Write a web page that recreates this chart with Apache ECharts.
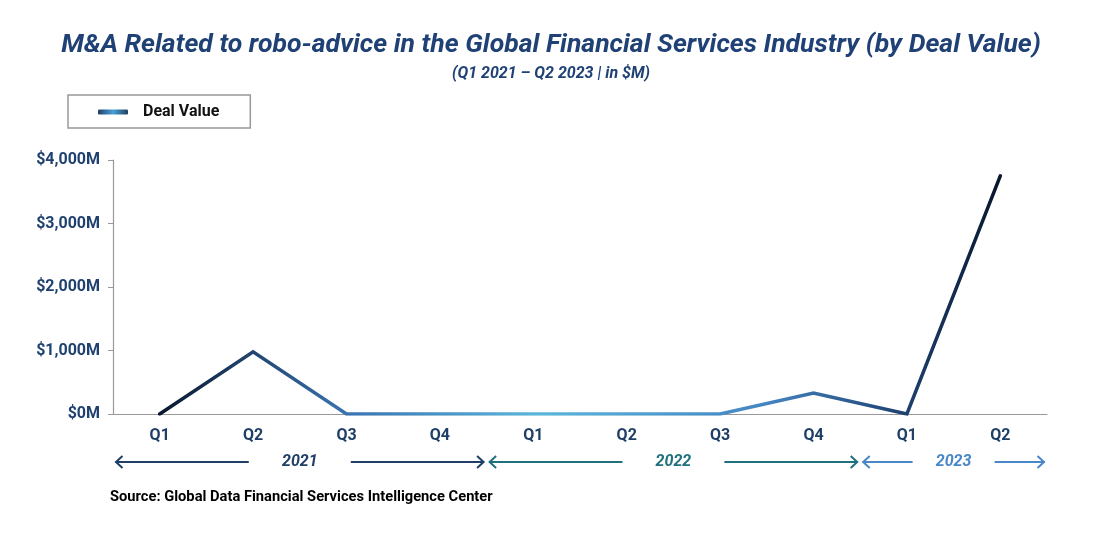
<!DOCTYPE html>
<html>
<head>
<meta charset="utf-8">
<script src="https://cdn.jsdelivr.net/npm/echarts@6/dist/echarts.min.js"></script>
<style>
html,body{margin:0;padding:0;background:#fff;}
#chart{width:1102px;height:559px;}
</style>
</head>
<body>
<div id="chart"></div>
<script>
const quarters = ['Q1','Q2','Q3','Q4','Q1','Q2','Q3','Q4','Q1','Q2'];
const dealValue = [0, 980, 0, 0, 0, 0, 0, 330, 0, 3750];
const years = ['2021','2022','2023'];
const quartersPerYear = [4, 4, 2];
const yearColors = ['#1f3f66', '#1f717d', '#4a87c6'];
const yMin = 0, yMax = 4000, yInterval = 1000;

const FONT = 'Roboto';
const lineGradient = new echarts.graphic.LinearGradient(0, 0, 1, 0, [
  {offset: 0, color: '#08162c'},
  {offset: 0.22, color: '#3a72b0'},
  {offset: 0.45, color: '#5cb6da'},
  {offset: 0.72, color: '#4585c2'},
  {offset: 0.88, color: '#1f4272'},
  {offset: 1, color: '#08162c'}
]);
const legendGradient = new echarts.graphic.LinearGradient(0, 0, 1, 0, [
  {offset: 0, color: '#1f3f66'},
  {offset: 0.5, color: '#4aa0d6'},
  {offset: 1, color: '#1f3f66'}
]);

const chart = echarts.init(document.getElementById('chart'));
chart.setOption({
  animation: false,
  title: {
    text: 'M&A Related to robo-advice in the Global Financial Services Industry (by Deal Value)',
    subtext: '(Q1 2021 \u2013 Q2 2023 | in $M)',
    left: 'center',
    top: 27,
    itemGap: 7,
    textStyle: {fontFamily: FONT, fontSize: 26.6, fontWeight: 'bold', fontStyle: 'italic', color: '#1f4175'},
    subtextStyle: {fontFamily: FONT, fontSize: 16, fontWeight: 'bold', fontStyle: 'italic', color: '#1f4175'}
  },
  legend: {
    left: 68,
    top: 95,
    orient: 'horizontal',
    padding: [9, 31, 8, 30],
    borderColor: '#999',
    borderWidth: 1.5,
    borderRadius: 0,
    itemWidth: 30,
    itemHeight: 5,
    icon: 'roundRect',
    data: [{name: 'Deal Value', itemStyle: {color: legendGradient}}],
    textStyle: {fontFamily: FONT, fontSize: 16, fontWeight: 'bold', color: '#111', padding: [0, 0, 0, 10]}
  },
  grid: {left: 113, right: 55, top: 160, bottom: 145, containLabel: false},
  xAxis: {
    type: 'category',
    data: quarters,
    boundaryGap: true,
    axisLine: {lineStyle: {color: '#999', width: 1.2}},
    axisTick: {show: false},
    axisLabel: {fontFamily: FONT, fontSize: 16, fontWeight: 'bold', color: '#1f3f66', margin: 14, interval: 0}
  },
  yAxis: {
    type: 'value',
    min: yMin,
    max: yMax,
    interval: yInterval,
    axisLine: {show: true, lineStyle: {color: '#999', width: 1.2}},
    axisTick: {show: true, length: 5, lineStyle: {color: '#999'}},
    splitLine: {show: false},
    axisLabel: {
      fontFamily: FONT, fontSize: 16, fontWeight: 'bold', color: '#1f4170', margin: 13,
      formatter: v => '$' + v.toLocaleString('en-US') + 'M'
    }
  },
  series: [{
    name: 'Deal Value',
    type: 'line',
    data: dealValue,
    symbol: 'none',
    lineStyle: {width: 3.5, color: lineGradient, cap: 'round', join: 'miter'},
    itemStyle: {color: '#1f3f66'}
  }]
});

function buildYearGraphics() {
  const x0 = chart.convertToPixel({xAxisIndex: 0}, 0);
  const x1 = chart.convertToPixel({xAxisIndex: 0}, 1);
  const band = x1 - x0;
  const y = 462;
  const els = [];
  let start = 0;
  years.forEach((yr, i) => {
    const left = x0 - band / 2 + start * band + 2.5;
    const right = x0 - band / 2 + (start + quartersPerYear[i]) * band - 2.5;
    const mid = (left + right) / 2;
    const gap = quartersPerYear[i] >= 4 ? 51 : 41;
    const col = yearColors[i];
    const ls = {stroke: col, lineWidth: 2, fill: null};
    els.push({type: 'line', shape: {x1: left, y1: y, x2: mid - gap, y2: y}, style: ls, silent: true});
    els.push({type: 'line', shape: {x1: mid + gap, y1: y, x2: right, y2: y}, style: ls, silent: true});
    els.push({type: 'polyline', shape: {points: [[left + 7, y - 6], [left + 0.5, y], [left + 7, y + 6]]}, style: ls, silent: true});
    els.push({type: 'polyline', shape: {points: [[right - 7, y - 6], [right - 0.5, y], [right - 7, y + 6]]}, style: ls, silent: true});
    els.push({type: 'text', x: mid, y: y, style: {text: yr, fill: col, font: 'italic bold 16px Roboto', align: 'center', verticalAlign: 'middle'}, silent: true});
    start += quartersPerYear[i];
  });
  els.push({type: 'text', x: 110, y: 497, style: {text: 'Source: Global Data Financial Services Intelligence Center', fill: '#000', font: 'bold 14.7px Roboto', align: 'left', verticalAlign: 'middle'}, silent: true});
  chart.setOption({graphic: {elements: els}});
}
buildYearGraphics();
</script>
</body>
</html>
